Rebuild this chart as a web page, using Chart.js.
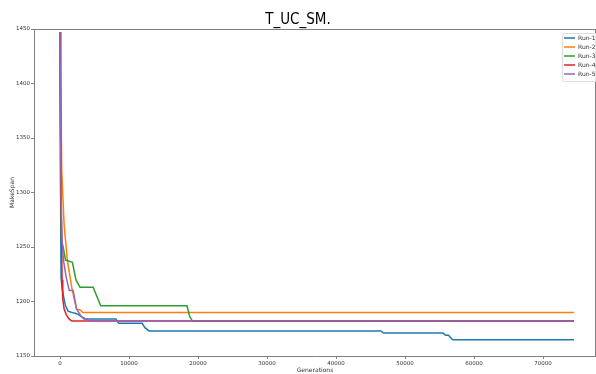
<!DOCTYPE html>
<html>
<head>
<meta charset="utf-8">
<title>T_UC_SM.</title>
<script src="https://cdn.jsdelivr.net/npm/chart.js@4.4.0/dist/chart.umd.min.js"></script>
<style>
    html, body { margin: 0; padding: 0; background: #fff; }
    #chart-container { width: 596px; height: 374px; position: relative; }
</style>
</head>
<body>
<div id="chart-container"><canvas id="runs-chart"></canvas></div>
<script>
// Best makespan per generation, one list of [generation, makespan] per run
const runLabels = ['Run-1', 'Run-2', 'Run-3', 'Run-4', 'Run-5'];
const runColors = ['#1f77b4', '#ff7f0e', '#2ca02c', '#d62728', '#9467bd'];

const run1 = [[0, 1447], [80, 1300], [150, 1222], [300, 1212], [500, 1205], [800, 1196],
    [1200, 1191], [1700, 1190], [2300, 1189], [2700, 1188], [3100, 1186], [3500, 1184],
    [8100, 1184], [8500, 1180], [11900, 1180], [12300, 1176], [12900, 1173], [46500, 1173],
    [46900, 1171], [55500, 1171], [55900, 1169], [56300, 1169], [56900, 1165], [74500, 1165]];
const run2 = [[0, 1447], [250, 1320], [600, 1270], [1060, 1238], [1700, 1213], [2400, 1193],
    [3000, 1192], [3300, 1190], [74500, 1190]];
const run3 = [[0, 1447], [100, 1300], [200, 1257], [450, 1250], [800, 1238], [1800, 1236],
    [2300, 1220], [2900, 1213], [4800, 1213], [5900, 1196], [18400, 1196], [18800, 1186],
    [19200, 1182], [74500, 1182]];
const run4 = [[0, 1447], [150, 1300], [300, 1220], [400, 1202], [600, 1193], [900, 1188],
    [1300, 1184], [1700, 1182], [74500, 1182]];
const run5 = [[0, 1447], [150, 1300], [300, 1256], [500, 1238], [900, 1222], [1350, 1210],
    [1900, 1210], [2400, 1193], [3100, 1186], [4000, 1183], [4500, 1182], [74500, 1182]];

const runs = [run1, run2, run3, run4, run5];

// Axis limits and tick labels
const xMin = -3770, xMax = 77680;
const xTickValues = [0, 10000, 20000, 30000, 40000, 50000, 60000, 70000];
const yMin = 1150, yMax = 1450;
const yTickValues = [1150, 1200, 1250, 1300, 1350, 1400, 1450];

const spineColor = '#808080';
const tickFont = { family: 'DejaVu Sans', size: 5.5 };

// Top and right spines, like matplotlib
const framePlugin = {
    id: 'frame',
    afterDatasetsDraw(chart) {
        const { ctx, chartArea: a } = chart;
        ctx.save();
        ctx.strokeStyle = spineColor;
        ctx.lineWidth = 1;
        ctx.beginPath();
        ctx.moveTo(a.left, a.top + 0.5);
        ctx.lineTo(a.right, a.top + 0.5);
        ctx.moveTo(a.right - 0.5, a.top);
        ctx.lineTo(a.right - 0.5, a.bottom);
        ctx.stroke();
        ctx.restore();
    }
};

// Vertical legend in the upper right corner
const legendPlugin = {
    id: 'cornerLegend',
    afterDraw(chart) {
        const { ctx, chartArea: a } = chart;
        const boxX = a.right - 34, boxY = a.top + 4, rowH = 9;
        const boxH = rowH * chart.data.datasets.length + 3;
        ctx.save();
        ctx.fillStyle = 'rgba(255,255,255,0.8)';
        ctx.strokeStyle = '#dddddd';
        ctx.lineWidth = 1;
        ctx.beginPath();
        ctx.roundRect(boxX + 0.5, boxY + 0.5, 40, boxH, 2);
        ctx.fill();
        ctx.stroke();
        ctx.font = '6px "DejaVu Sans"';
        ctx.textBaseline = 'middle';
        chart.data.datasets.forEach((ds, i) => {
            const y = boxY + 5 + i * rowH;
            ctx.strokeStyle = ds.borderColor;
            ctx.lineWidth = 1.5;
            ctx.beginPath();
            ctx.moveTo(boxX + 2, y);
            ctx.lineTo(boxX + 13, y);
            ctx.stroke();
            ctx.fillStyle = '#333';
            ctx.fillText(ds.label, boxX + 16, y);
        });
        ctx.restore();
    }
};

const ctx = document.getElementById('runs-chart').getContext('2d');
const runsChart = new Chart(ctx, {
    type: 'line',
    data: {
        // later runs are drawn on top, as in matplotlib
        datasets: runs.map((run, i) => ({
            label: runLabels[i],
            data: run.map(p => ({ x: p[0], y: p[1] })),
            order: runs.length - i,
            borderColor: runColors[i],
            backgroundColor: runColors[i],
            borderWidth: 1.5,
            pointRadius: 0,
            tension: 0,
            fill: false
        }))
    },
    options: {
        responsive: true,
        maintainAspectRatio: false,
        animation: false,
        layout: { padding: 0 },
        scales: {
            x: {
                type: 'linear',
                min: xMin,
                max: xMax,
                afterFit: scale => { scale.height = 18; },
                afterBuildTicks: scale => { scale.ticks = xTickValues.map(v => ({ value: v })); },
                grid: { drawOnChartArea: false, drawTicks: true, tickLength: 3, color: spineColor },
                border: { display: true, color: spineColor },
                ticks: {
                    padding: 1,
                    maxRotation: 0,
                    autoSkip: false,
                    color: '#333',
                    font: tickFont,
                    callback: value => value.toString()
                },
                title: {
                    display: true,
                    text: 'Generations',
                    color: '#333',
                    font: { family: 'DejaVu Sans', size: 6 },
                    padding: { top: 0, bottom: 0 }
                }
            },
            y: {
                min: yMin,
                max: yMax,
                afterFit: scale => { scale.width = 34; },
                afterBuildTicks: scale => { scale.ticks = yTickValues.map(v => ({ value: v })); },
                grid: { drawOnChartArea: false, drawTicks: true, tickLength: 3, color: spineColor },
                border: { display: true, color: spineColor },
                ticks: {
                    padding: 1,
                    autoSkip: false,
                    color: '#333',
                    font: tickFont,
                    callback: value => value.toString()
                },
                title: {
                    display: true,
                    text: 'MakeSpan',
                    color: '#333',
                    font: { family: 'DejaVu Sans', size: 6 },
                    padding: { top: 9, bottom: 0 }
                }
            }
        },
        plugins: {
            legend: { display: false },
            tooltip: { enabled: false },
            title: {
                display: true,
                text: 'T_UC_SM.',
                color: '#000',
                font: { family: "'Liberation Sans Narrow', 'DejaVu Sans Condensed', sans-serif", size: 15, weight: 'normal' },
                padding: { top: 11, bottom: 0 }
            }
        }
    },
    plugins: [framePlugin, legendPlugin]
});
</script>
</body>
</html>
